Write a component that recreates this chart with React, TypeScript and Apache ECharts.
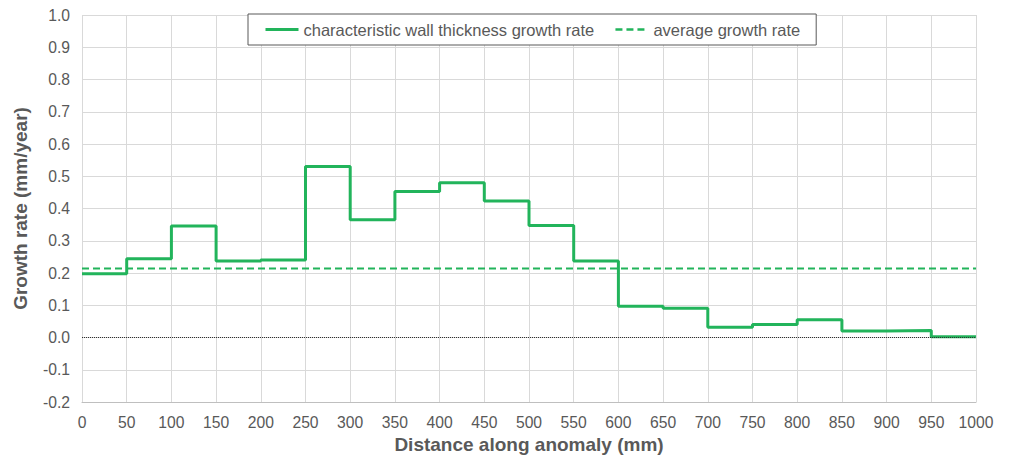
import React, { useEffect, useRef } from "react";
import * as echarts from "echarts";

const segmentStarts = [0, 50, 100, 150, 200, 250, 300, 350, 400, 450, 500, 550, 600, 650, 700, 750, 800, 850, 900, 950];
const segmentEnd = 1000;
const growthRates = [0.198, 0.244, 0.346, 0.237, 0.24, 0.53, 0.365, 0.453, 0.48, 0.423, 0.347, 0.237, 0.097, 0.091, 0.032, 0.04, 0.055, 0.02, 0.022, 0.002];
const averageRate = 0.214;
const seriesNames = ["characteristic wall thickness growth rate", "average growth rate"];

export default function App() {
  const ref = useRef<HTMLDivElement>(null);
  useEffect(() => {
    if (!ref.current) return;
    const chart = echarts.init(ref.current, null, { renderer: "svg" });
    const green = "#22b45b";
    const grey = "#595959";
    const font = "Liberation Sans, Arial, sans-serif";
    const stepData: [number, number][] = segmentStarts.map((x, i) => [x, growthRates[i]]);
    stepData.push([segmentEnd, growthRates[growthRates.length - 1]]);
    chart.setOption({
      animation: false,
      backgroundColor: "#ffffff",
      grid: { left: 74, right: 35, top: 7, bottom: 57, containLabel: false, outerBoundsMode: "none" },
      legend: {
        left: 240,
        top: 6,
        padding: [7, 16, 7, 16],
        itemGap: 20,
        itemWidth: 33,
        itemHeight: 14,
        borderColor: "#595959",
        borderWidth: 1,
        backgroundColor: "#ffffff",
        itemStyle: { opacity: 0 },
        textStyle: { color: grey, fontSize: 16.5, fontFamily: font },
        data: [
          { name: seriesNames[0], lineStyle: { width: 3 } },
          { name: seriesNames[1], lineStyle: { width: 2.5 } },
        ],
      },
      xAxis: {
        type: "value",
        min: 0,
        max: 1000,
        interval: 50,
        name: "Distance along anomaly (mm)",
        nameLocation: "middle",
        nameGap: 32,
        nameTextStyle: { color: grey, fontSize: 19, fontWeight: "bold", fontFamily: font },
        axisLine: { onZero: false, lineStyle: { color: "#bfbfbf", width: 1 } },
        axisTick: { show: false },
        axisLabel: { color: grey, fontSize: 15.7, fontFamily: font, margin: 12, formatter: (v: number) => String(v) },
        splitLine: { show: true, lineStyle: { color: "#d9d9d9", width: 1 } },
      },
      yAxis: {
        type: "value",
        min: -0.2,
        max: 1.0,
        interval: 0.1,
        name: "Growth rate (mm/year)",
        nameLocation: "middle",
        nameGap: 52,
        nameRotate: 90,
        nameTextStyle: { color: grey, fontSize: 19, fontWeight: "bold", fontFamily: font },
        axisLine: { show: false },
        axisTick: { show: false },
        axisLabel: {
          color: grey,
          fontSize: 15.7,
          fontFamily: font,
          margin: 12,
          formatter: (v: number) => v.toFixed(1),
        },
        splitLine: { show: true, lineStyle: { color: "#d9d9d9", width: 1 } },
      },
      series: [
        {
          name: seriesNames[0],
          type: "line",
          step: "end",
          symbol: "none",
          data: stepData,
          lineStyle: { color: green, width: 3 },
          itemStyle: { color: green },
          z: 3,
          markLine: {
            silent: true,
            symbol: "none",
            label: { show: false },
            lineStyle: { color: "#303030", type: [1, 1], width: 1 },
            data: [{ yAxis: 0 }],
          },
        },
        {
          name: seriesNames[1],
          type: "line",
          symbol: "none",
          data: [
            [0, averageRate],
            [segmentEnd, averageRate],
          ],
          lineStyle: { color: green, width: 2, type: [7, 4] },
          itemStyle: { color: green },
          z: 2,
        },
      ],
    });
    return () => chart.dispose();
  }, []);
  return <div ref={ref} style={{ width: 1003, height: 451 }} />;
}
